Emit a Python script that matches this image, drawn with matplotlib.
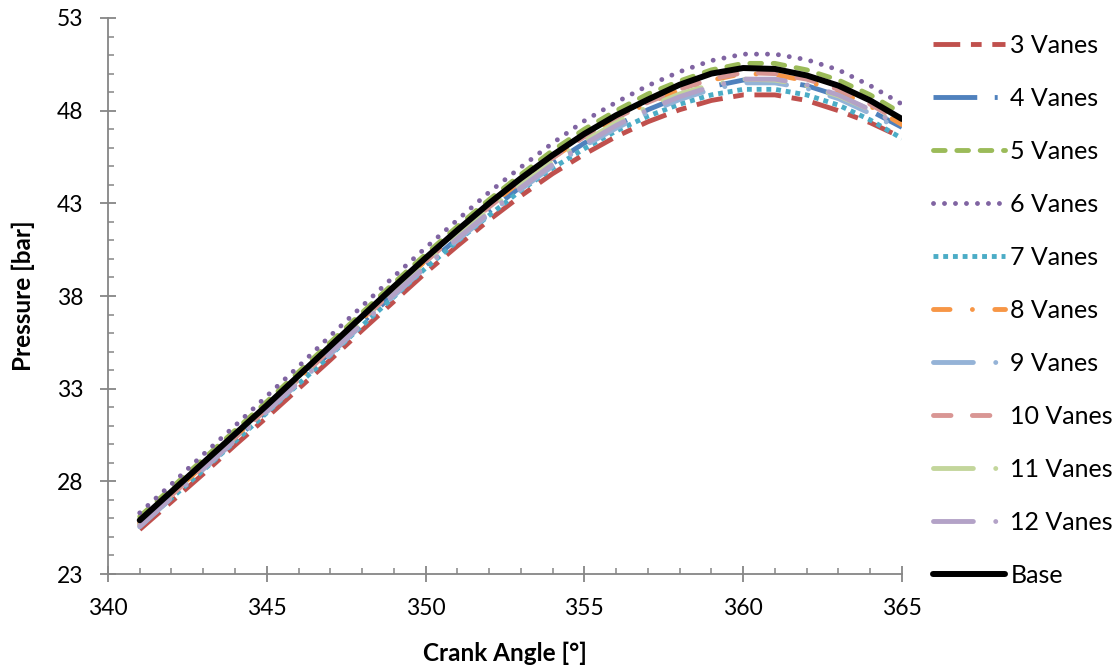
import numpy as np
import matplotlib
matplotlib.use("Agg")
import matplotlib.pyplot as plt
from matplotlib.ticker import MultipleLocator

plt.rcParams['font.family'] = ['Lato', 'DejaVu Sans']

# Crank angle [deg]
angles = list(range(341, 366))

vanes_3 = [25.4, 26.9, 28.4, 29.95, 31.45, 33.0, 34.55, 36.15, 37.7, 39.25, 40.7, 42.1, 43.4,
           44.6, 45.65, 46.6, 47.4, 48.05, 48.55, 48.85, 48.85, 48.55, 48.0, 47.35, 46.55]
vanes_4 = [25.6, 27.15, 28.7, 30.25, 31.8, 33.4, 34.95, 36.55, 38.1, 39.65, 41.1, 42.55, 43.9,
           45.15, 46.25, 47.2, 48.05, 48.75, 49.3, 49.65, 49.65, 49.35, 48.8, 48.0, 47.1]
vanes_5 = [26.1, 27.65, 29.2, 30.75, 32.3, 33.9, 35.5, 37.1, 38.7, 40.25, 41.75, 43.2, 44.55,
           45.85, 47.0, 48.0, 48.9, 49.6, 50.2, 50.55, 50.55, 50.2, 49.65, 48.85, 47.85]
vanes_6 = [26.3, 27.85, 29.45, 31.0, 32.6, 34.2, 35.85, 37.45, 39.05, 40.6, 42.1, 43.6, 44.95,
           46.25, 47.45, 48.45, 49.35, 50.1, 50.7, 51.05, 51.05, 50.75, 50.2, 49.35, 48.35]
vanes_7 = [25.6, 27.1, 28.6, 30.15, 31.7, 33.25, 34.8, 36.4, 37.95, 39.5, 40.95, 42.35, 43.7,
           44.9, 45.95, 46.9, 47.7, 48.35, 48.85, 49.15, 49.15, 48.85, 48.3, 47.5, 46.5]
vanes_8 = [25.75, 27.3, 28.85, 30.4, 31.95, 33.55, 35.15, 36.75, 38.35, 39.9, 41.4, 42.85, 44.2,
           45.45, 46.6, 47.55, 48.4, 49.1, 49.65, 50.0, 49.95, 49.6, 49.05, 48.25, 47.25]
vanes_9 = [25.55, 27.1, 28.65, 30.2, 31.75, 33.3, 34.85, 36.45, 38.0, 39.55, 41.0, 42.4, 43.75,
           45.0, 46.1, 47.05, 47.9, 48.6, 49.15, 49.5, 49.5, 49.2, 48.65, 47.85, 46.95]
vanes_10 = [25.7, 27.25, 28.8, 30.35, 31.9, 33.5, 35.1, 36.7, 38.3, 39.85, 41.35, 42.8, 44.15,
            45.45, 46.6, 47.6, 48.45, 49.15, 49.7, 50.05, 50.0, 49.7, 49.15, 48.35, 47.35]
vanes_11 = [25.65, 27.2, 28.75, 30.3, 31.85, 33.45, 35.0, 36.6, 38.2, 39.75, 41.25, 42.65, 44.0,
            45.25, 46.35, 47.35, 48.2, 48.9, 49.4, 49.7, 49.65, 49.35, 48.8, 48.05, 47.2]
vanes_12 = [25.6, 27.15, 28.7, 30.25, 31.8, 33.35, 34.95, 36.5, 38.1, 39.6, 41.1, 42.5, 43.85,
            45.1, 46.2, 47.2, 48.05, 48.75, 49.3, 49.7, 49.7, 49.4, 48.85, 48.05, 47.15]
base = [25.9, 27.45, 29.0, 30.55, 32.1, 33.7, 35.3, 36.9, 38.5, 40.05, 41.55, 43.0, 44.35,
        45.6, 46.75, 47.75, 48.6, 49.4, 50.0, 50.3, 50.25, 49.9, 49.35, 48.55, 47.55]

labels = ['3 Vanes', '4 Vanes', '5 Vanes', '6 Vanes', '7 Vanes', '8 Vanes',
          '9 Vanes', '10 Vanes', '11 Vanes', '12 Vanes', 'Base']
series = [vanes_3, vanes_4, vanes_5, vanes_6, vanes_7, vanes_8,
          vanes_9, vanes_10, vanes_11, vanes_12, base]

x_ticks = [340, 345, 350, 355, 360, 365]
y_ticks = [23, 28, 33, 38, 43, 48, 53]

# excel-like line formats
styles = [
    dict(color='#C0504D', ls=(0, (5.5, 2.2, 2.2, 2.2)), dash_capstyle='butt'),
    dict(color='#4F81BD', ls=(0, (9, 3.6, 0.6, 3.6)), dash_capstyle='butt'),
    dict(color='#9BBB59', ls=(0, (2.4, 2.4)), dash_capstyle='round'),
    dict(color='#8064A2', ls=(0, (0.01, 2.25)), dash_capstyle='round'),
    dict(color='#4BACC6', ls=(0, (1, 1)), dash_capstyle='butt'),
    dict(color='#F79646', ls=(0, (3.4, 4.6, 0.01, 4.6)), dash_capstyle='round'),
    dict(color='#95B3D7', ls=(0, (8.2, 4.6, 0.01, 4.6)), dash_capstyle='round'),
    dict(color='#D99694', ls=(0, (3.6, 4.4)), dash_capstyle='round'),
    dict(color='#C3D69B', ls=(0, (8.2, 4.6, 0.01, 4.6)), dash_capstyle='round'),
    dict(color='#B3A2C7', ls=(0, (8.2, 4.6, 0.01, 4.6)), dash_capstyle='round'),
]

fig = plt.figure(figsize=(11.12, 6.66), dpi=100)
ax = fig.add_axes([0.0971, 0.1381, 0.8111 - 0.0971, 0.973 - 0.1381])

for vals, lab, st in zip(series[:-1], labels[:-1], styles):
    ax.plot(angles, vals, lw=3.5, label=lab, **st)
ax.plot(angles, base, color='black', lw=4.3, solid_capstyle='round', label=labels[-1])

ax.set_xlim(340, 365)
ax.set_ylim(23, 53)
ax.set_xticks(x_ticks)
ax.set_yticks(y_ticks)
ax.xaxis.set_minor_locator(MultipleLocator(1))
ax.yaxis.set_minor_locator(MultipleLocator(1))

axis_color = '#868686'
for s in ['top', 'right']:
    ax.spines[s].set_visible(False)
for s in ['left', 'bottom']:
    ax.spines[s].set_color(axis_color)
    ax.spines[s].set_linewidth(1.3)

ax.tick_params(which='major', direction='inout', length=11, width=1.3, color=axis_color,
               labelsize=16.5, labelcolor='#000000', pad=12)
ax.tick_params(which='minor', direction='in', length=4.5, width=1.1, color=axis_color)

ax.set_xlabel('Crank Angle [°]', fontsize=17.5, fontweight='bold', labelpad=16)
ax.set_ylabel('Pressure [bar]', fontsize=17.5, fontweight='bold', labelpad=16)

ax.legend(loc='upper left', bbox_to_anchor=(0.839, 0.9495), bbox_transform=fig.transFigure,
          frameon=False, fontsize=18, handlelength=2.9, handletextpad=0.2,
          labelspacing=1.2, borderpad=0, borderaxespad=0)

fig.savefig('out.png', dpi=100, facecolor='white')
